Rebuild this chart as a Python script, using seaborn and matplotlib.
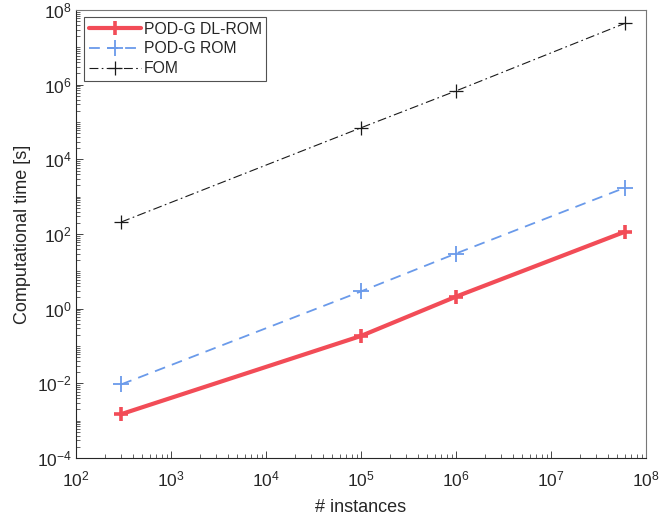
import numpy as np
import pandas as pd
import matplotlib
matplotlib.use("Agg")
import matplotlib.pyplot as plt
from matplotlib.ticker import LogLocator, LogFormatterMathtext, NullFormatter
import seaborn as sns

instances = [300, 1e5, 1e6, 6e7]
dlrom_time = [1.5e-3, 0.186, 2.1, 115]
rom_time = [9.4e-3, 2.9, 30, 1740]
fom_time = [210, 7.0e4, 6.8e5, 4.4e7]
series_names = ["POD-G DL-ROM", "POD-G ROM", "FOM"]

sns.set_style("ticks")
plt.rcParams["font.family"] = ["Liberation Sans", "DejaVu Sans"]
plt.rcParams["mathtext.fontset"] = "custom"
plt.rcParams["mathtext.rm"] = "Liberation Sans"
plt.rcParams["mathtext.it"] = "Liberation Sans"
plt.rcParams["axes.unicode_minus"] = False

fig = plt.figure(figsize=(6.61, 5.24), dpi=100)
ax = fig.add_axes([76/661, 1 - 458/524, 570/661, 448/524])

styles = [
    dict(color="#F24C57", lw=3.0, ls="-", marker="+", ms=10, mew=2.6),
    dict(color="#6A9AEA", lw=1.3, ls=(0, (6, 4)), marker="+", ms=11, mew=1.3),
    dict(color="#1a1a1a", lw=0.8, ls=(0, (8, 3, 1.5, 3)), marker="+", ms=10, mew=0.9),
]
for name, vals, st in zip(series_names, [dlrom_time, rom_time, fom_time], styles):
    df = pd.DataFrame({"x": instances, "y": vals})
    sns.lineplot(data=df, x="x", y="y", ax=ax, label=name, color=st["color"],
                 linewidth=st["lw"], linestyle=st["ls"], marker=st["marker"],
                 markersize=st["ms"], markeredgewidth=st["mew"], markeredgecolor=st["color"])

ax.set_xscale("log")
ax.set_yscale("log")
ax.set_xlim(1e2, 1e8)
ax.set_ylim(1e-4, 1e8)
ax.xaxis.set_major_locator(LogLocator(base=10, numticks=20))
ax.yaxis.set_major_locator(matplotlib.ticker.FixedLocator([10.0**k for k in range(-4, 9, 2)]))
ax.xaxis.set_major_formatter(LogFormatterMathtext())
ax.yaxis.set_major_formatter(LogFormatterMathtext())
ax.xaxis.set_minor_locator(LogLocator(base=10, subs=np.arange(2, 10), numticks=50))
ax.yaxis.set_minor_locator(LogLocator(base=10, subs=np.arange(1, 10), numticks=50))
ax.xaxis.set_minor_formatter(NullFormatter())
ax.yaxis.set_minor_formatter(NullFormatter())
ax.tick_params(which="both", direction="in", top=False, right=False, labelsize=12.5, colors="#262626")
ax.tick_params(which="major", length=5, width=0.6)
ax.tick_params(which="minor", length=3, width=0.5)
ax.tick_params(axis="x", pad=8)
ax.tick_params(axis="y", pad=3)
for s in ax.spines.values():
    s.set_linewidth(0.8)
    s.set_color("#262626")
ax.spines["top"].set_color("#777777")
ax.spines["right"].set_color("#777777")

ax.set_xlabel("# instances", fontsize=13, color="#262626", labelpad=7)
ax.set_ylabel("Computational time [s]", fontsize=13, color="#262626", labelpad=4)

leg = ax.legend(loc="upper left", bbox_to_anchor=(8/570, 1 - 7/448), fontsize=11.3, frameon=True,
                fancybox=False, edgecolor="#262626", handlelength=3.3, borderaxespad=0.0,
                labelspacing=0.3, handletextpad=0.2, borderpad=0.3)
leg.get_frame().set_linewidth(0.8)

fig.savefig("out.png", dpi=100)
